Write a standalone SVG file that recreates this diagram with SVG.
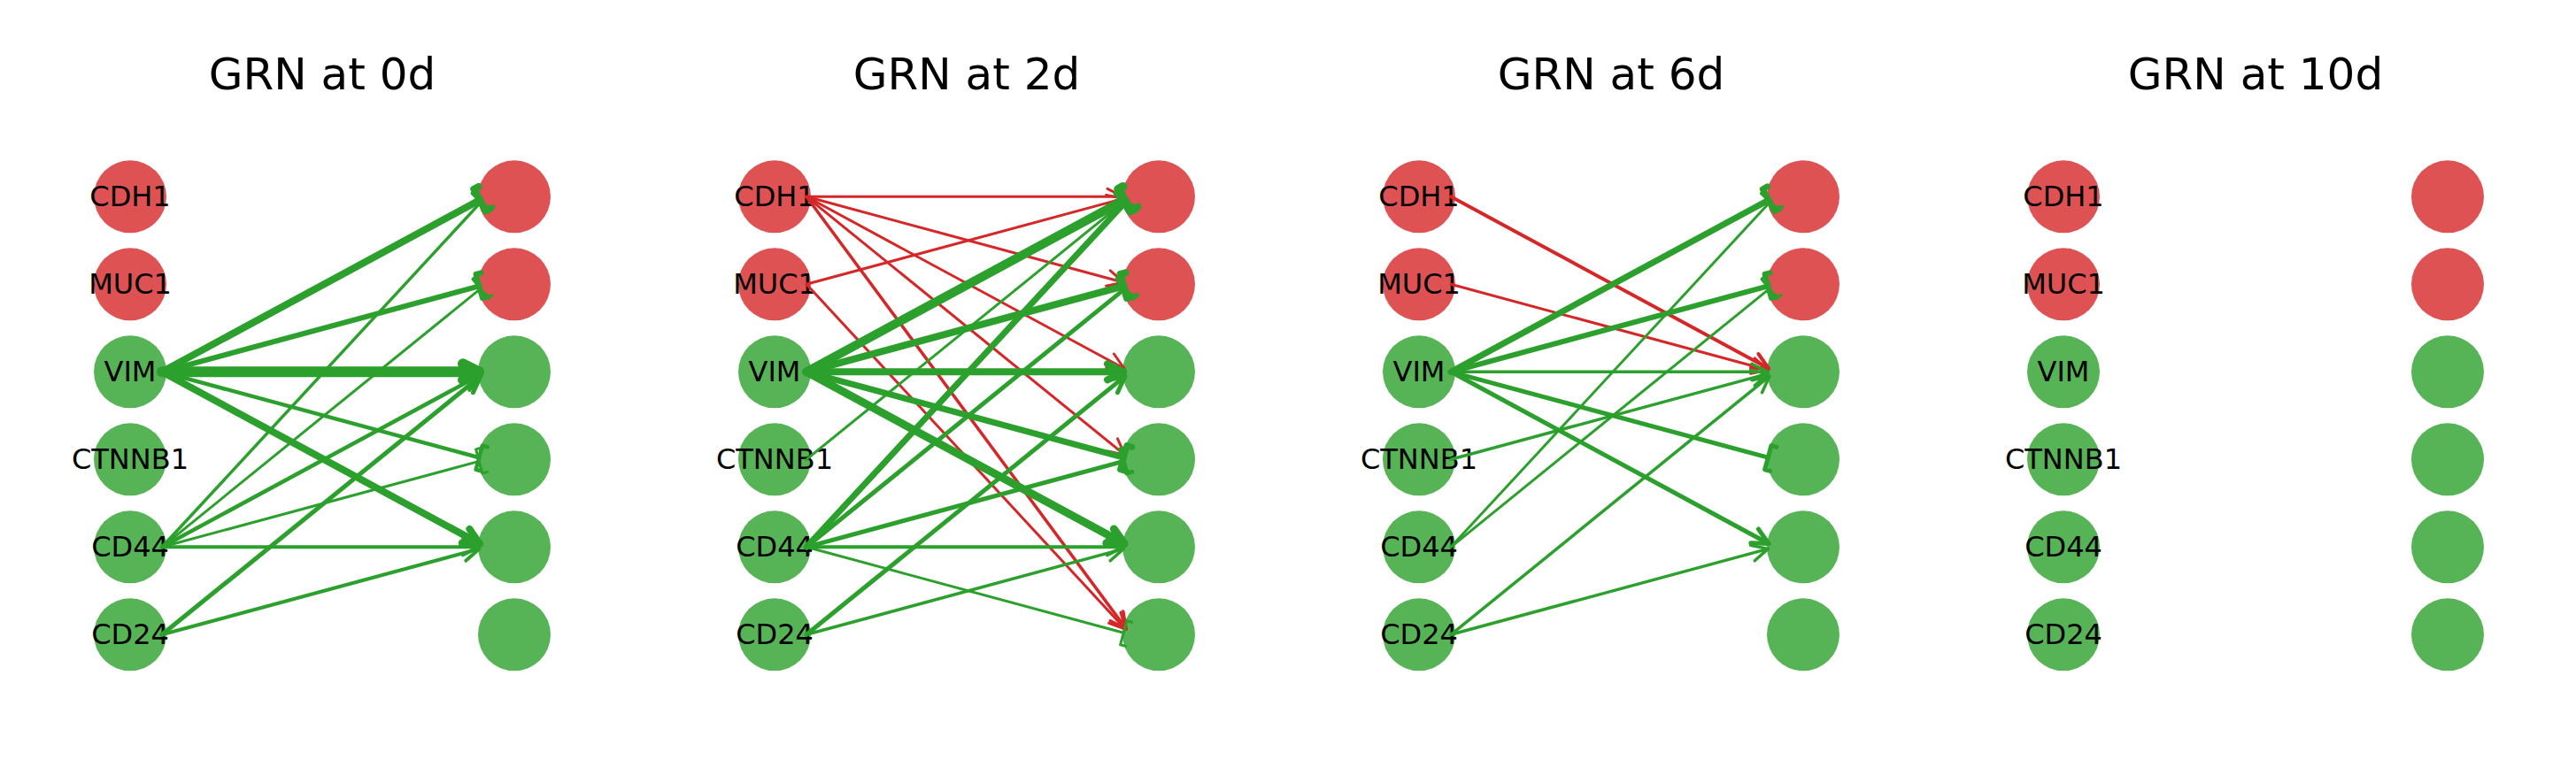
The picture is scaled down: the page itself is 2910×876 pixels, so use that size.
<svg xmlns="http://www.w3.org/2000/svg" width="2910" height="876" viewBox="0 0 2910 876">
<style>
.title{font-family:"DejaVu Sans","Liberation Sans",sans-serif;font-size:50px;fill:#000;text-anchor:middle}
.lbl{font-family:"DejaVu Sans","Liberation Sans",sans-serif;font-size:32px;fill:#000;text-anchor:middle}
.nr{fill:#d62728;fill-opacity:0.8}
.ng{fill:#2ca02c;fill-opacity:0.8}
.e{fill:none;stroke-linecap:round;stroke-linejoin:round}
.g{stroke:#2ca02c}
.r{stroke:#d62728}
.w3{stroke-width:3}.w35{stroke-width:3.5}.w4{stroke-width:4}.w45{stroke-width:4.5}
.w5{stroke-width:5}.w6{stroke-width:6}.w7{stroke-width:7}.w8{stroke-width:8}.w9{stroke-width:9}.w10{stroke-width:10}.w12{stroke-width:12}
</style>
<defs>
<path id="arr" d="M-18,-9 L0,0 L-18,9"/>
<path id="brk" d="M6,-14 L0,-14 L0,14 L6,14"/>
<marker id="ga35" markerUnits="userSpaceOnUse" orient="auto" overflow="visible"><use href="#arr" class="e g w35"/></marker>
<marker id="ga4" markerUnits="userSpaceOnUse" orient="auto" overflow="visible"><use href="#arr" class="e g w4"/></marker>
<marker id="ga45" markerUnits="userSpaceOnUse" orient="auto" overflow="visible"><use href="#arr" class="e g w45"/></marker>
<marker id="ga5" markerUnits="userSpaceOnUse" orient="auto" overflow="visible"><use href="#arr" class="e g w5"/></marker>
<marker id="ga8" markerUnits="userSpaceOnUse" orient="auto" overflow="visible"><use href="#arr" class="e g w8"/></marker>
<marker id="ga9" markerUnits="userSpaceOnUse" orient="auto" overflow="visible"><use href="#arr" class="e g w9"/></marker>
<marker id="ga12" markerUnits="userSpaceOnUse" orient="auto" overflow="visible"><use href="#arr" class="e g w12"/></marker>
<marker id="gb3" markerUnits="userSpaceOnUse" orient="auto" overflow="visible"><use href="#brk" class="e g w3"/></marker>
<marker id="gb35" markerUnits="userSpaceOnUse" orient="auto" overflow="visible"><use href="#brk" class="e g w35"/></marker>
<marker id="gb45" markerUnits="userSpaceOnUse" orient="auto" overflow="visible"><use href="#brk" class="e g w45"/></marker>
<marker id="gb5" markerUnits="userSpaceOnUse" orient="auto" overflow="visible"><use href="#brk" class="e g w5"/></marker>
<marker id="gb6" markerUnits="userSpaceOnUse" orient="auto" overflow="visible"><use href="#brk" class="e g w6"/></marker>
<marker id="gb7" markerUnits="userSpaceOnUse" orient="auto" overflow="visible"><use href="#brk" class="e g w7"/></marker>
<marker id="gb8" markerUnits="userSpaceOnUse" orient="auto" overflow="visible"><use href="#brk" class="e g w8"/></marker>
<marker id="gb10" markerUnits="userSpaceOnUse" orient="auto" overflow="visible"><use href="#brk" class="e g w10"/></marker>
<marker id="ra3" markerUnits="userSpaceOnUse" orient="auto" overflow="visible"><use href="#arr" class="e r w3"/></marker>
<marker id="ra35" markerUnits="userSpaceOnUse" orient="auto" overflow="visible"><use href="#arr" class="e r w35"/></marker>
<marker id="ra4" markerUnits="userSpaceOnUse" orient="auto" overflow="visible"><use href="#arr" class="e r w4"/></marker>
</defs>
<rect width="2910" height="876" fill="#fff"/>

<text class="title" x="364" y="101">GRN at 0d</text>
<text class="title" x="1092" y="101">GRN at 2d</text>
<text class="title" x="1820" y="101">GRN at 6d</text>
<text class="title" x="2548" y="101">GRN at 10d</text>

<!-- Panel 0d nodes -->
<g id="p0-CDH1"><circle class="nr" cx="147" cy="222.3" r="41"/><text class="lbl" x="147" y="233.3">CDH1</text></g>
<g id="p0-MUC1"><circle class="nr" cx="147" cy="321.3" r="41"/><text class="lbl" x="147" y="332.3">MUC1</text></g>
<g id="p0-VIM"><circle class="ng" cx="147" cy="420.3" r="41"/><text class="lbl" x="147" y="431.3">VIM</text></g>
<g id="p0-CTNNB1"><circle class="ng" cx="147" cy="519.3" r="41"/><text class="lbl" x="147" y="530.3">CTNNB1</text></g>
<g id="p0-CD44"><circle class="ng" cx="147" cy="618.3" r="41"/><text class="lbl" x="147" y="629.3">CD44</text></g>
<g id="p0-CD24"><circle class="ng" cx="147" cy="717.3" r="41"/><text class="lbl" x="147" y="728.3">CD24</text></g>
<g id="p0-t-CDH1"><circle class="nr" cx="581" cy="222.3" r="41"/></g>
<g id="p0-t-MUC1"><circle class="nr" cx="581" cy="321.3" r="41"/></g>
<g id="p0-t-VIM"><circle class="ng" cx="581" cy="420.3" r="41"/></g>
<g id="p0-t-CTNNB1"><circle class="ng" cx="581" cy="519.3" r="41"/></g>
<g id="p0-t-CD44"><circle class="ng" cx="581" cy="618.3" r="41"/></g>
<g id="p0-t-CD24"><circle class="ng" cx="581" cy="717.3" r="41"/></g>

<!-- Panel 2d nodes -->
<g id="p1-CDH1"><circle class="nr" cx="875" cy="222.3" r="41"/><text class="lbl" x="875" y="233.3">CDH1</text></g>
<g id="p1-MUC1"><circle class="nr" cx="875" cy="321.3" r="41"/><text class="lbl" x="875" y="332.3">MUC1</text></g>
<g id="p1-VIM"><circle class="ng" cx="875" cy="420.3" r="41"/><text class="lbl" x="875" y="431.3">VIM</text></g>
<g id="p1-CTNNB1"><circle class="ng" cx="875" cy="519.3" r="41"/><text class="lbl" x="875" y="530.3">CTNNB1</text></g>
<g id="p1-CD44"><circle class="ng" cx="875" cy="618.3" r="41"/><text class="lbl" x="875" y="629.3">CD44</text></g>
<g id="p1-CD24"><circle class="ng" cx="875" cy="717.3" r="41"/><text class="lbl" x="875" y="728.3">CD24</text></g>
<g id="p1-t-CDH1"><circle class="nr" cx="1309" cy="222.3" r="41"/></g>
<g id="p1-t-MUC1"><circle class="nr" cx="1309" cy="321.3" r="41"/></g>
<g id="p1-t-VIM"><circle class="ng" cx="1309" cy="420.3" r="41"/></g>
<g id="p1-t-CTNNB1"><circle class="ng" cx="1309" cy="519.3" r="41"/></g>
<g id="p1-t-CD44"><circle class="ng" cx="1309" cy="618.3" r="41"/></g>
<g id="p1-t-CD24"><circle class="ng" cx="1309" cy="717.3" r="41"/></g>

<!-- Panel 6d nodes -->
<g id="p2-CDH1"><circle class="nr" cx="1603" cy="222.3" r="41"/><text class="lbl" x="1603" y="233.3">CDH1</text></g>
<g id="p2-MUC1"><circle class="nr" cx="1603" cy="321.3" r="41"/><text class="lbl" x="1603" y="332.3">MUC1</text></g>
<g id="p2-VIM"><circle class="ng" cx="1603" cy="420.3" r="41"/><text class="lbl" x="1603" y="431.3">VIM</text></g>
<g id="p2-CTNNB1"><circle class="ng" cx="1603" cy="519.3" r="41"/><text class="lbl" x="1603" y="530.3">CTNNB1</text></g>
<g id="p2-CD44"><circle class="ng" cx="1603" cy="618.3" r="41"/><text class="lbl" x="1603" y="629.3">CD44</text></g>
<g id="p2-CD24"><circle class="ng" cx="1603" cy="717.3" r="41"/><text class="lbl" x="1603" y="728.3">CD24</text></g>
<g id="p2-t-CDH1"><circle class="nr" cx="2037" cy="222.3" r="41"/></g>
<g id="p2-t-MUC1"><circle class="nr" cx="2037" cy="321.3" r="41"/></g>
<g id="p2-t-VIM"><circle class="ng" cx="2037" cy="420.3" r="41"/></g>
<g id="p2-t-CTNNB1"><circle class="ng" cx="2037" cy="519.3" r="41"/></g>
<g id="p2-t-CD44"><circle class="ng" cx="2037" cy="618.3" r="41"/></g>
<g id="p2-t-CD24"><circle class="ng" cx="2037" cy="717.3" r="41"/></g>

<!-- Panel 10d nodes -->
<g id="p3-CDH1"><circle class="nr" cx="2331" cy="222.3" r="41"/><text class="lbl" x="2331" y="233.3">CDH1</text></g>
<g id="p3-MUC1"><circle class="nr" cx="2331" cy="321.3" r="41"/><text class="lbl" x="2331" y="332.3">MUC1</text></g>
<g id="p3-VIM"><circle class="ng" cx="2331" cy="420.3" r="41"/><text class="lbl" x="2331" y="431.3">VIM</text></g>
<g id="p3-CTNNB1"><circle class="ng" cx="2331" cy="519.3" r="41"/><text class="lbl" x="2331" y="530.3">CTNNB1</text></g>
<g id="p3-CD44"><circle class="ng" cx="2331" cy="618.3" r="41"/><text class="lbl" x="2331" y="629.3">CD44</text></g>
<g id="p3-CD24"><circle class="ng" cx="2331" cy="717.3" r="41"/><text class="lbl" x="2331" y="728.3">CD24</text></g>
<g id="p3-t-CDH1"><circle class="nr" cx="2765" cy="222.3" r="41"/></g>
<g id="p3-t-MUC1"><circle class="nr" cx="2765" cy="321.3" r="41"/></g>
<g id="p3-t-VIM"><circle class="ng" cx="2765" cy="420.3" r="41"/></g>
<g id="p3-t-CTNNB1"><circle class="ng" cx="2765" cy="519.3" r="41"/></g>
<g id="p3-t-CD44"><circle class="ng" cx="2765" cy="618.3" r="41"/></g>
<g id="p3-t-CD24"><circle class="ng" cx="2765" cy="717.3" r="41"/></g>

<g id="connectors" class="e">
<!-- 0d -->
<line class="e g w8" x1="183" y1="420.3" x2="541.96" y2="226.11" marker-end="url(#gb8)"/>
<line class="e g w6" x1="183" y1="420.3" x2="541.28" y2="323.39" marker-end="url(#gb6)"/>
<line class="e g w12" x1="183" y1="420.3" x2="541" y2="420.3" marker-end="url(#ga12)"/>
<line class="e g w45" x1="183" y1="420.3" x2="541.28" y2="517.21" marker-end="url(#gb45)"/>
<line class="e g w8" x1="183" y1="420.3" x2="541.96" y2="614.49" marker-end="url(#ga8)"/>
<line class="e g w35" x1="183" y1="618.3" x2="543.57" y2="228.18" marker-end="url(#gb35)"/>
<line class="e g w3" x1="183" y1="618.3" x2="542.79" y2="326.34" marker-end="url(#gb3)"/>
<line class="e g w45" x1="183" y1="618.3" x2="541.96" y2="424.11" marker-end="url(#ga45)"/>
<line class="e g w3" x1="183" y1="618.3" x2="541.28" y2="521.39" marker-end="url(#gb3)"/>
<line class="e g w4" x1="183" y1="618.3" x2="541" y2="618.3" marker-end="url(#ga4)"/>
<line class="e g w5" x1="183" y1="717.3" x2="542.79" y2="425.34" marker-end="url(#ga5)"/>
<line class="e g w4" x1="183" y1="717.3" x2="541.28" y2="620.39" marker-end="url(#ga4)"/>
<!-- 2d -->
<line class="e r w3" x1="911" y1="222.3" x2="1269" y2="222.3" marker-end="url(#ra3)"/>
<line class="e r w3" x1="911" y1="222.3" x2="1269.28" y2="319.21" marker-end="url(#ra3)"/>
<line class="e r w3" x1="911" y1="222.3" x2="1269.96" y2="416.49" marker-end="url(#ra3)"/>
<line class="e r w3" x1="911" y1="222.3" x2="1270.79" y2="514.26" marker-end="url(#ra3)"/>
<line class="e r w35" x1="911" y1="222.3" x2="1272.24" y2="710.87" marker-end="url(#ra35)"/>
<line class="e r w3" x1="911" y1="321.3" x2="1269.28" y2="224.39" marker-end="url(#ra3)"/>
<line class="e r w3" x1="911" y1="321.3" x2="1271.57" y2="711.42" marker-end="url(#ra3)"/>
<line class="e g w10" x1="911" y1="420.3" x2="1269.96" y2="226.11" marker-end="url(#gb10)"/>
<line class="e g w8" x1="911" y1="420.3" x2="1269.28" y2="323.39" marker-end="url(#gb8)"/>
<line class="e g w8" x1="911" y1="420.3" x2="1269" y2="420.3" marker-end="url(#ga8)"/>
<line class="e g w7" x1="911" y1="420.3" x2="1269.28" y2="517.21" marker-end="url(#gb7)"/>
<line class="e g w9" x1="911" y1="420.3" x2="1269.96" y2="614.49" marker-end="url(#ga9)"/>
<line class="e g w3" x1="911" y1="519.3" x2="1270.79" y2="227.34" marker-end="url(#gb3)"/>
<line class="e g w7" x1="911" y1="618.3" x2="1271.57" y2="228.18" marker-end="url(#gb7)"/>
<line class="e g w5" x1="911" y1="618.3" x2="1270.79" y2="326.34" marker-end="url(#gb5)"/>
<line class="e g w5" x1="911" y1="618.3" x2="1269.28" y2="521.39" marker-end="url(#gb5)"/>
<line class="e g w4" x1="911" y1="618.3" x2="1269" y2="618.3" marker-end="url(#ga4)"/>
<line class="e g w3" x1="911" y1="618.3" x2="1269.28" y2="715.21" marker-end="url(#gb3)"/>
<line class="e g w5" x1="911" y1="717.3" x2="1270.79" y2="425.34" marker-end="url(#ga5)"/>
<line class="e g w35" x1="911" y1="717.3" x2="1269.28" y2="620.39" marker-end="url(#ga35)"/>
<!-- 6d -->
<line class="e r w4" x1="1639" y1="222.3" x2="1997.96" y2="416.49" marker-end="url(#ra4)"/>
<line class="e r w3" x1="1639" y1="321.3" x2="1997.28" y2="418.21" marker-end="url(#ra3)"/>
<line class="e g w7" x1="1639" y1="420.3" x2="1997.96" y2="226.11" marker-end="url(#gb7)"/>
<line class="e g w6" x1="1639" y1="420.3" x2="1997.28" y2="323.39" marker-end="url(#gb6)"/>
<line class="e g w35" x1="1639" y1="420.3" x2="1997" y2="420.3" marker-end="url(#ga35)"/>
<line class="e g w5" x1="1639" y1="420.3" x2="1997.28" y2="517.21" marker-end="url(#gb5)"/>
<line class="e g w5" x1="1639" y1="420.3" x2="1997.96" y2="614.49" marker-end="url(#ga5)"/>
<line class="e g w35" x1="1639" y1="519.3" x2="1997.28" y2="422.39" marker-end="url(#ga35)"/>
<line class="e g w3" x1="1639" y1="618.3" x2="1999.57" y2="228.18" marker-end="url(#gb3)"/>
<line class="e g w3" x1="1639" y1="618.3" x2="1998.79" y2="326.34" marker-end="url(#gb3)"/>
<line class="e g w35" x1="1639" y1="717.3" x2="1998.79" y2="425.34" marker-end="url(#ga35)"/>
<line class="e g w35" x1="1639" y1="717.3" x2="1997.28" y2="620.39" marker-end="url(#ga35)"/>
</g>
</svg>
